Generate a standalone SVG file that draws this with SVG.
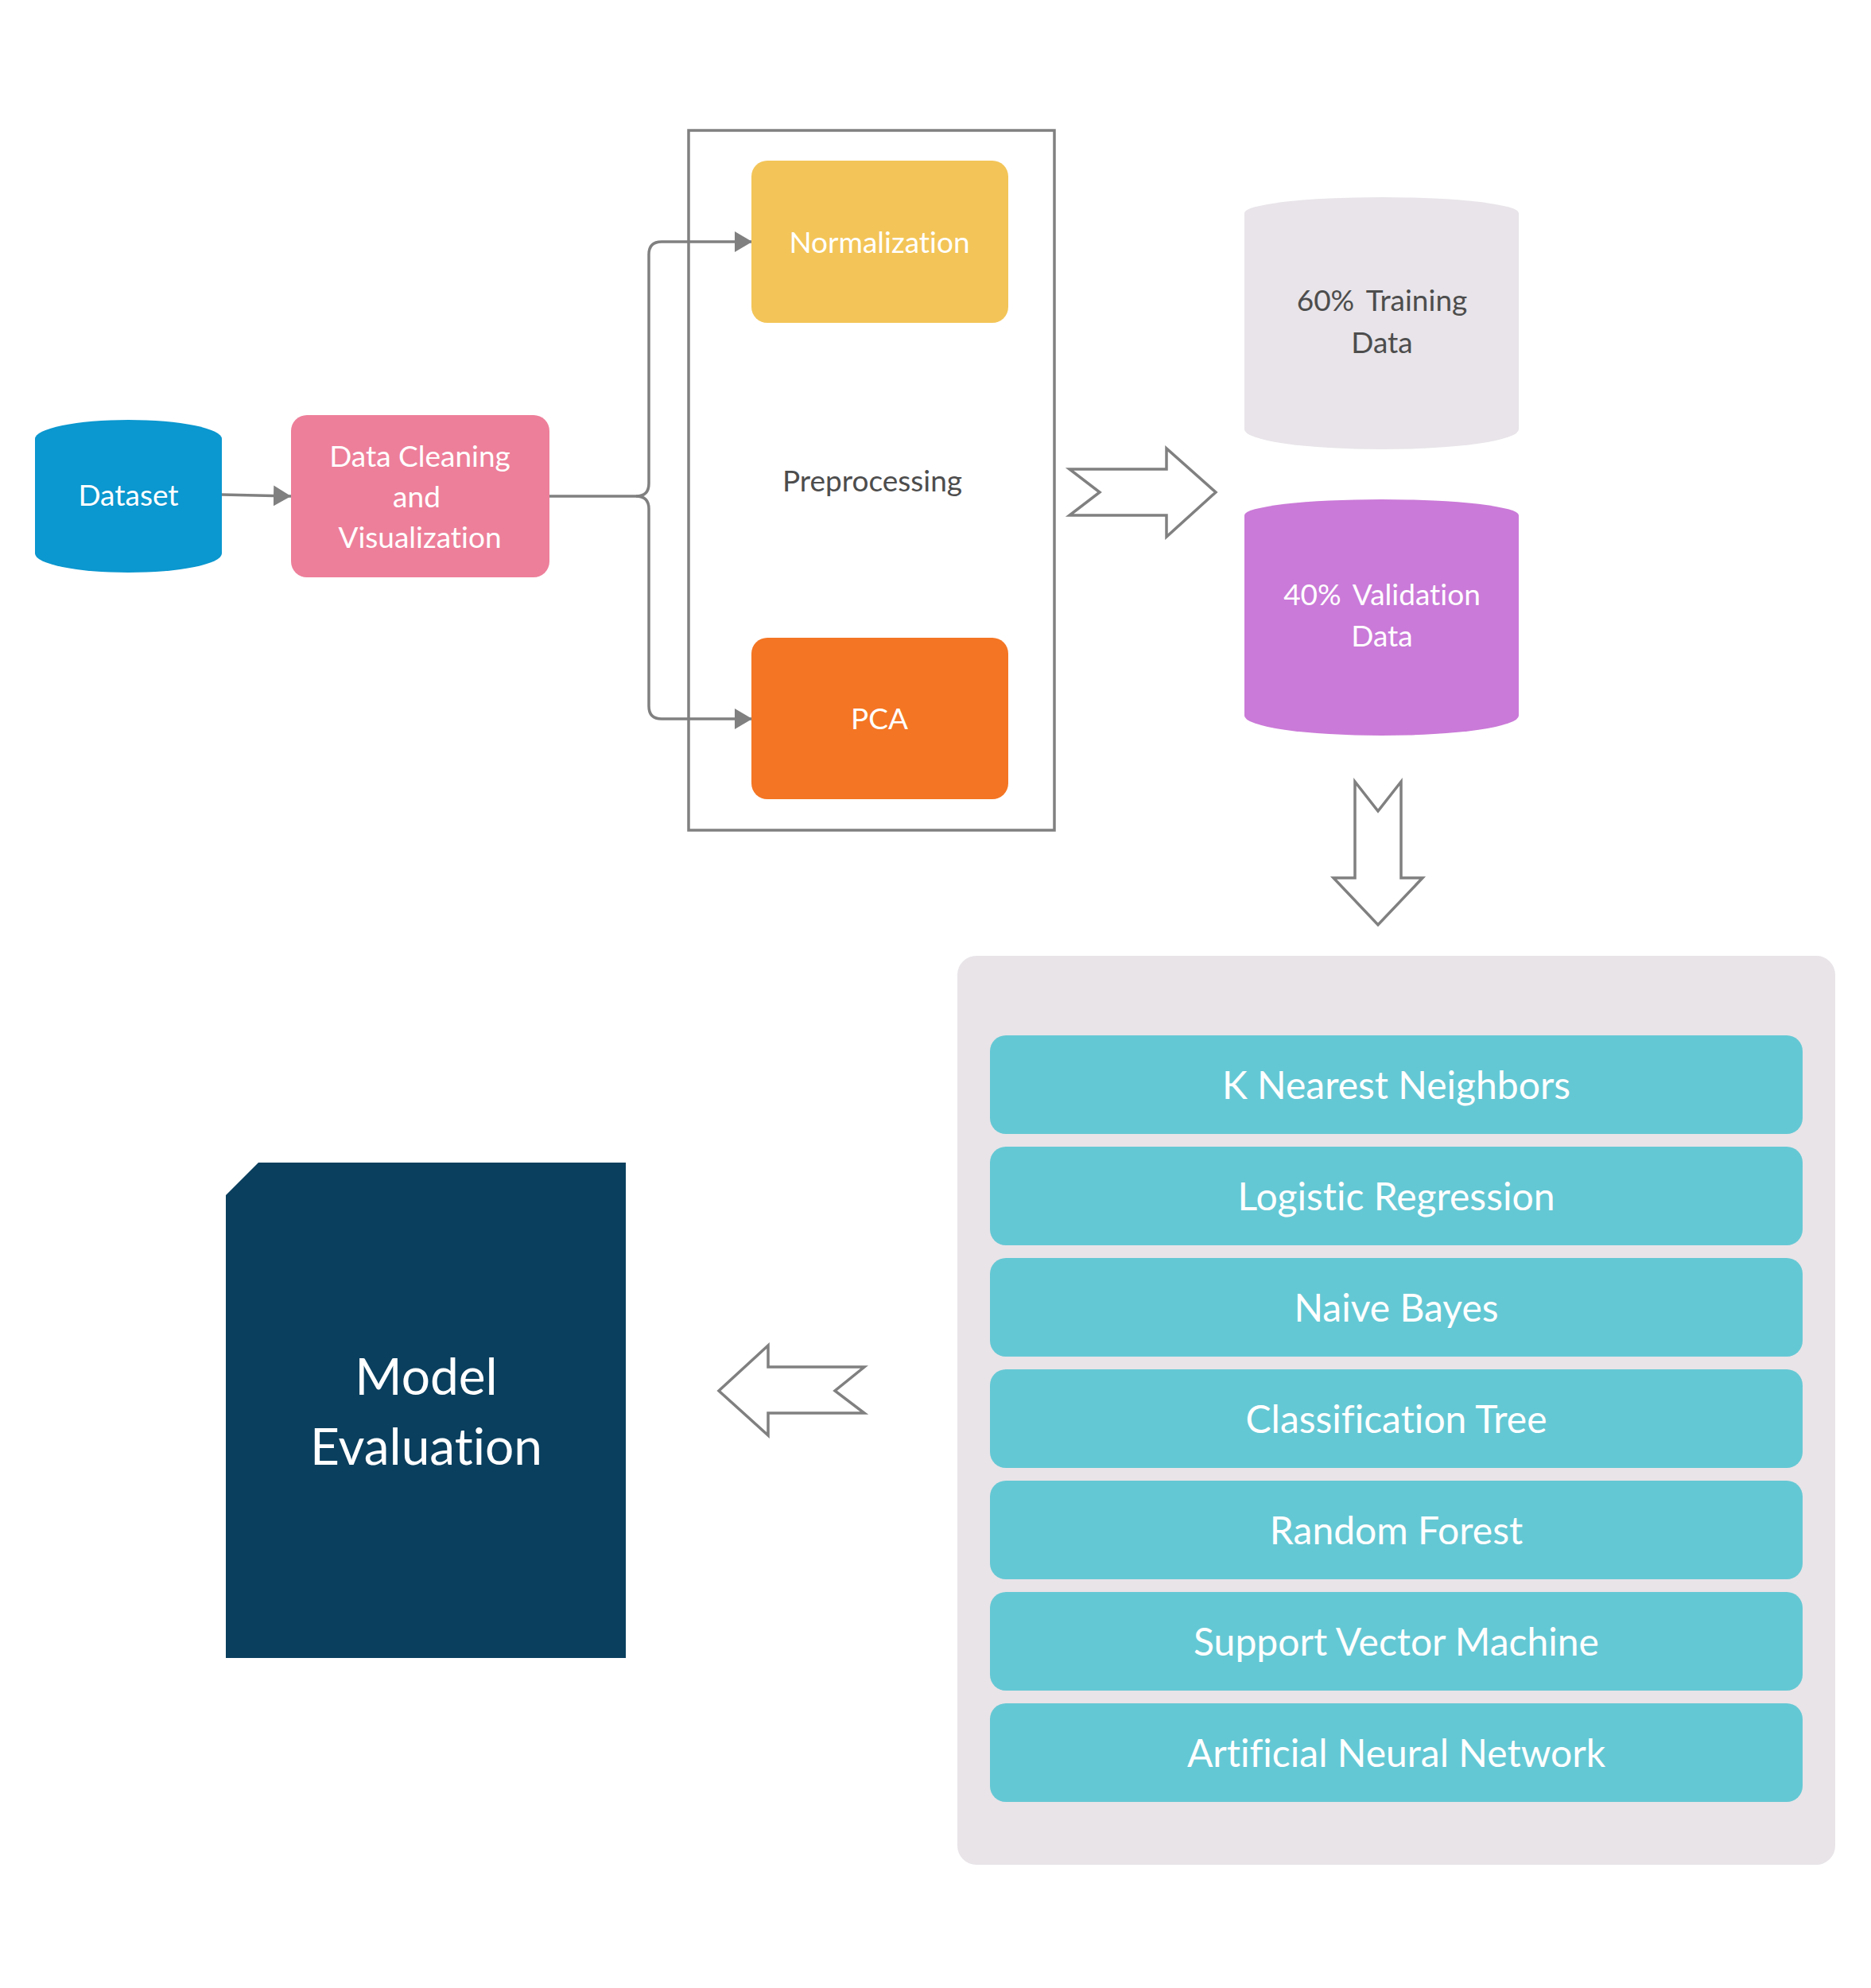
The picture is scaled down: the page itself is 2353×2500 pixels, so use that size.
<svg xmlns="http://www.w3.org/2000/svg" width="2353" height="2500" viewBox="0 0 2353 2500">
  <defs>
    <style>
      .lbl { font-family: Lato, "Open Sans", "Liberation Sans", sans-serif; text-anchor: middle; font-variant-ligatures: none; font-feature-settings: "liga" 0, "clig" 0; }
      .w { fill: #ffffff; }
      .d { fill: #4d4d4d; }
      .m { font-size: 37px; }
      .l { font-size: 48px; }
      .xl { font-size: 64px; }
      .pct { word-spacing: 6px; }
      .edge { fill: none; stroke: #808080; stroke-width: 3.5; }
      .block { fill: #ffffff; stroke: #808080; stroke-width: 3.5; stroke-linejoin: miter; }
      .algo { fill: #64c8d4; }
    </style>
    <marker id="tri" viewBox="0 0 22 26" refX="22" refY="13" markerWidth="22" markerHeight="26" markerUnits="userSpaceOnUse" orient="auto">
      <path d="M0,0 L22,13 L0,26 Z" fill="#808080"/>
    </marker>
  </defs>

  <rect width="2353" height="2500" fill="#ffffff"/>

  <!-- Preprocessing container -->
  <g id="preprocessing">
    <rect x="866" y="164" width="460" height="880" fill="none" stroke="#808080" stroke-width="3.5"/>
    <text class="lbl d m" x="1097" y="618">Preprocessing</text>
  </g>

  <!-- Connectors -->
  <g id="connectors">
    <path class="edge" d="M279,622 L366,624" marker-end="url(#tri)"/>
    <path class="edge" d="M691,624 L800,624 Q816,624 816,608 L816,320 Q816,304 832,304 L946,304" marker-end="url(#tri)"/>
    <path class="edge" d="M800,624 Q816,624 816,640 L816,888 Q816,904 832,904 L946,904" marker-end="url(#tri)"/>
    <!-- block arrows -->
    <path class="block" d="M1345,590 L1467,590 L1467,564 L1529,619 L1467,675 L1467,648 L1345,648 L1383,619 Z"/>
    <path class="block" d="M1704,983 L1733,1020 L1762,983 L1762,1104 L1789,1104 L1733,1163 L1677,1104 L1704,1104 Z"/>
    <path class="block" d="M1087,1719 L966,1719 L966,1692 L904,1749 L966,1805 L966,1777 L1087,1777 L1050,1749 Z"/>
  </g>

  <g id="dataset">
    <path d="M44,552 A117.5,24 0 0 1 279,552 L279,696 A117.5,24 0 0 1 44,696 Z" fill="#0b97cf"/>
    <text class="lbl w m" x="161.5" y="636">Dataset</text>
  </g>

  <g id="data-cleaning">
    <rect x="366" y="522" width="325" height="204" rx="20" fill="#ed7f9a"/>
    <text class="lbl w m" x="528" y="587">Data Cleaning</text>
    <text class="lbl w m" x="524" y="638">and</text>
    <text class="lbl w m" x="528" y="689">Visualization</text>
  </g>

  <g id="normalization">
    <rect x="945" y="202" width="323" height="204" rx="20" fill="#f3c558"/>
    <text class="lbl w m" x="1106" y="318">Normalization</text>
  </g>

  <g id="pca">
    <rect x="945" y="802" width="323" height="203" rx="20" fill="#f47523"/>
    <text class="lbl w m" x="1106" y="917">PCA</text>
  </g>

  <g id="training-data">
    <path d="M1565,268 A172.5,20 0 0 1 1910,268 L1910,540 A172.5,25 0 0 1 1565,540 Z" fill="#e8e4e9"/>
    <text class="lbl d m pct" x="1738" y="391">60% Training</text>
    <text class="lbl d m" x="1738" y="444">Data</text>
  </g>

  <g id="validation-data">
    <path d="M1565,648 A172.5,20 0 0 1 1910,648 L1910,900 A172.5,25 0 0 1 1565,900 Z" fill="#ca7ad8"/>
    <text class="lbl w m pct" x="1738" y="761">40% Validation</text>
    <text class="lbl w m" x="1738" y="813">Data</text>
  </g>

  <g id="models">
    <rect x="1204" y="1202" width="1104" height="1143" rx="24" fill="#e8e4e8"/>
    <g id="knn">
      <rect class="algo" x="1245" y="1302" width="1022" height="124" rx="20"/>
      <text class="lbl w l" x="1756" y="1382">K Nearest Neighbors</text>
    </g>
    <g id="logistic-regression">
      <rect class="algo" x="1245" y="1442" width="1022" height="124" rx="20"/>
      <text class="lbl w l" x="1756" y="1522">Logistic Regression</text>
    </g>
    <g id="naive-bayes">
      <rect class="algo" x="1245" y="1582" width="1022" height="124" rx="20"/>
      <text class="lbl w l" x="1756" y="1662">Naive Bayes</text>
    </g>
    <g id="classification-tree">
      <rect class="algo" x="1245" y="1722" width="1022" height="124" rx="20"/>
      <text class="lbl w l" x="1756" y="1802">Classification Tree</text>
    </g>
    <g id="random-forest">
      <rect class="algo" x="1245" y="1862" width="1022" height="124" rx="20"/>
      <text class="lbl w l" x="1756" y="1942">Random Forest</text>
    </g>
    <g id="svm">
      <rect class="algo" x="1245" y="2002" width="1022" height="124" rx="20"/>
      <text class="lbl w l" x="1756" y="2082">Support Vector Machine</text>
    </g>
    <g id="ann">
      <rect class="algo" x="1245" y="2142" width="1022" height="124" rx="20"/>
      <text class="lbl w l" x="1756" y="2222">Artificial Neural Network</text>
    </g>
  </g>

  <g id="model-evaluation">
    <path d="M325,1462 L787,1462 L787,2085 L284,2085 L284,1503 Z" fill="#0a3f5e"/>
    <text class="lbl w xl" x="536" y="1754">Model</text>
    <text class="lbl w xl" x="536" y="1842">Evaluation</text>
  </g>
</svg>
